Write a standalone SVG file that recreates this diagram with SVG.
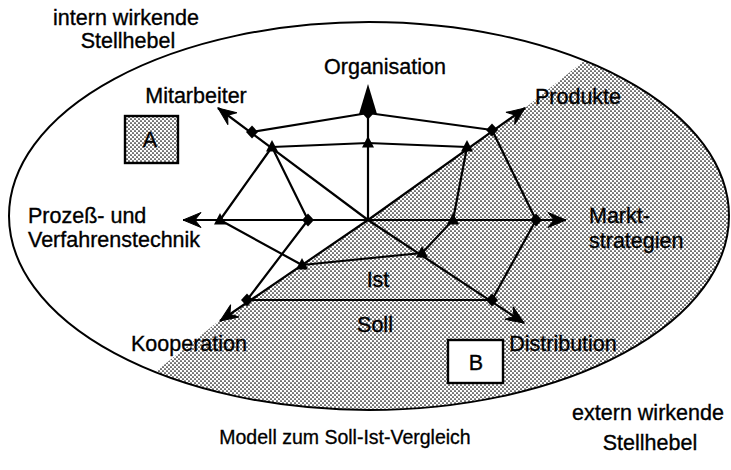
<svg xmlns="http://www.w3.org/2000/svg" width="731" height="470" viewBox="0 0 731 470">
  <style>
    .lbl { font-family: "Liberation Sans", Arial, sans-serif; font-size: 21.5px; fill: #000; stroke: #000; stroke-width: 0.35; }
    .cap { font-family: "Liberation Sans", Arial, sans-serif; font-size: 19.5px; fill: #000; stroke: #000; stroke-width: 0.3; }
    .axis { stroke: #000; stroke-width: 2.2; fill: none; marker-end: url(#arrow); }
    .poly { stroke: #000; stroke-width: 2.2; fill: none; stroke-linejoin: round; }
    .soll { fill: #000; }
    .ist { fill: #000; }
    .box { stroke: #000; stroke-width: 2.4; }
  </style>
  <defs>
    <pattern id="dots" width="4" height="4" patternUnits="userSpaceOnUse">
      <circle cx="1" cy="1" r="0.85" fill="#000"/>
      <circle cx="3" cy="3" r="0.85" fill="#000"/>
    </pattern>
    <clipPath id="ellClip">
      <ellipse cx="369" cy="216" rx="360" ry="194"/>
    </clipPath>
    <marker id="arrow" markerUnits="userSpaceOnUse" markerWidth="24" markerHeight="20" viewBox="-20 -10 24 20" refX="0" refY="0" orient="auto">
      <path d="M0,0 L-18,-7.5 L-12,0 L-18,7.5 Z" fill="#000" stroke="#000" stroke-width="1"/>
    </marker>
    <path id="diamond" d="M0,-6.5 L6,0 L0,6.5 L-6,0 Z"/>
    <path id="tri" d="M0,-7 L6,4.5 L-6,4.5 Z"/>
  </defs>

  <rect width="731" height="470" fill="#fff"/>

  <!-- external half of the field, dotted -->
  <g id="extern-area" clip-path="url(#ellClip)">
    <polygon points="110,408 220,320 368,220 525,108 625,28 740,28 740,470 110,470" fill="url(#dots)"/>
  </g>
  <ellipse id="field" cx="369" cy="216" rx="360" ry="194" fill="none" stroke="#000" stroke-width="2"/>

  <!-- legend boxes -->
  <g id="box-a">
    <rect class="box" x="125" y="116" width="53" height="47" fill="#fff"/>
    <rect x="126" y="117" width="51" height="45" fill="url(#dots)"/>
    <text class="lbl" x="150" y="147" text-anchor="middle" font-size="20">A</text>
  </g>
  <g id="box-b">
    <rect class="box" x="448" y="340" width="55" height="43" fill="#fff"/>
    <text class="lbl" x="476" y="370" text-anchor="middle" font-size="20">B</text>
  </g>

  <!-- radar axes and value polygons -->
  <g id="connectors">
    <line class="axis" x1="368" y1="220" x2="218" y2="108"/>
    <line class="axis" x1="368" y1="220" x2="525" y2="108"/>
    <line class="axis" x1="368" y1="220" x2="183" y2="220"/>
    <line class="axis" x1="368" y1="220" x2="566" y2="220"/>
    <line class="axis" x1="368" y1="220" x2="220" y2="321"/>
    <line class="axis" x1="368" y1="220" x2="524" y2="323"/>
    <line x1="368" y1="220" x2="368" y2="110" stroke="#000" stroke-width="2.2"/>
    <polygon points="368,84 359,114 377,114" fill="#000"/>

    <!-- Soll -->
    <polyline class="poly" points="252,132 368,113 492,130 536,220 492,300 247,300 308,220 272,147"/>
    <!-- Ist -->
    <polyline class="poly" points="272,147 368,143 467,147 453,220 422,253 302,265 220,220 272,147"/>
  </g>

  <g id="soll-points" class="soll">
    <use href="#diamond" x="252" y="132"/>
    <use href="#diamond" x="368" y="113"/>
    <use href="#diamond" x="492" y="130"/>
    <use href="#diamond" x="536" y="220"/>
    <use href="#diamond" x="492" y="300"/>
    <use href="#diamond" x="247" y="300"/>
    <use href="#diamond" x="308" y="220"/>
  </g>
  <g id="ist-points" class="ist">
    <use href="#tri" x="272" y="147"/>
    <use href="#tri" x="368" y="143"/>
    <use href="#tri" x="467" y="147"/>
    <use href="#tri" x="453" y="220"/>
    <use href="#tri" x="422" y="253"/>
    <use href="#tri" x="302" y="265"/>
    <use href="#tri" x="220" y="220"/>
  </g>

  <!-- axis labels -->
  <g id="n-organisation"><text class="lbl" x="385" y="74" text-anchor="middle">Organisation</text></g>
  <g id="n-mitarbeiter"><text class="lbl" x="196" y="103" text-anchor="middle">Mitarbeiter</text></g>
  <g id="n-produkte"><text class="lbl" x="578" y="104" text-anchor="middle">Produkte</text></g>
  <g id="n-markt">
    <text class="lbl" x="589" y="223">Markt-</text>
    <text class="lbl" x="589" y="248">strategien</text>
  </g>
  <g id="n-prozess">
    <text class="lbl" x="28" y="223" font-size="21">Prozeß- und</text>
    <text class="lbl" x="28" y="247" font-size="21">Verfahrenstechnik</text>
  </g>
  <g id="n-kooperation"><text class="lbl" x="189" y="351" text-anchor="middle">Kooperation</text></g>
  <g id="n-distribution"><text class="lbl" x="563" y="351" text-anchor="middle">Distribution</text></g>
  <g id="n-ist"><text class="lbl" x="378" y="287" text-anchor="middle">Ist</text></g>
  <g id="n-soll"><text class="lbl" x="375" y="332" text-anchor="middle">Soll</text></g>

  <!-- outer captions -->
  <g id="n-intern">
    <text class="lbl" x="126" y="25" text-anchor="middle">intern wirkende</text>
    <text class="lbl" x="128" y="48" text-anchor="middle">Stellhebel</text>
  </g>
  <g id="n-extern">
    <text class="lbl" x="648" y="420" text-anchor="middle">extern wirkende</text>
    <text class="lbl" x="650" y="450" text-anchor="middle">Stellhebel</text>
  </g>
  <g id="n-title"><text class="cap" x="345" y="444" text-anchor="middle">Modell zum Soll-Ist-Vergleich</text></g>
</svg>
